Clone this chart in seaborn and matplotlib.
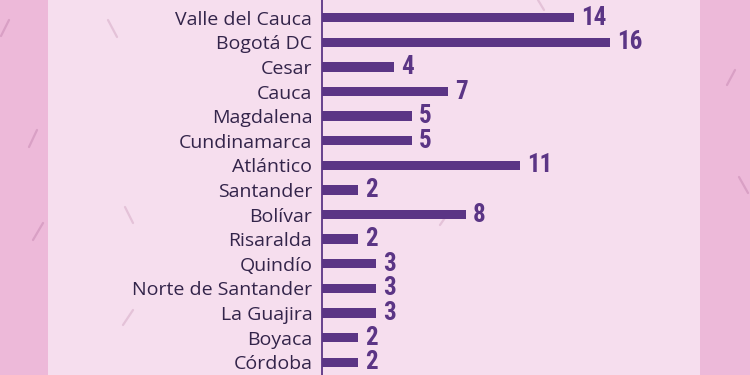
import matplotlib
matplotlib.use("Agg")
import matplotlib.pyplot as plt
import seaborn as sns
import pandas as pd
from matplotlib.lines import Line2D
from matplotlib.patches import Rectangle

# Cases by department
departments = [
    "Antioquia", "Valle del Cauca", "Bogotá DC", "Cesar", "Cauca",
    "Magdalena", "Cundinamarca", "Atlántico", "Santander", "Bolívar",
    "Risaralda", "Quindío", "Norte de Santander", "La Guajira",
    "Boyaca", "Córdoba",
]
cases = [17, 14, 16, 4, 7, 5, 5, 11, 2, 8, 2, 3, 3, 3, 2, 2]

OUTER = "#EDB9D9"
PANEL = "#F6DEEE"
BAR = "#5B3585"
LABEL = "#33244A"

df = pd.DataFrame({"departamento": departments, "casos": cases})

sns.set_theme(style="white")
plt.rcParams["font.family"] = ["Open Sans", "DejaVu Sans"]

W, H = 750, 375
fig = plt.figure(figsize=(W / 100, H / 100), dpi=100)
fig.patch.set_facecolor(OUTER)

# light card behind the chart
fig.add_artist(Rectangle((48 / W, 0), (700 - 48) / W, 1, transform=fig.transFigure,
                         facecolor=PANEL, edgecolor="none", zorder=0))

# scattered confetti strokes in the background
strokes = [
    ((1, 36), (9, 20)), ((29, 147), (37, 130)), ((33, 240), (43, 223)),
    ((108, 20), (117, 37)), ((125, 207), (133, 223)), ((123, 325), (133, 310)),
    ((727, 85), (735, 70)), ((739, 177), (748, 193)), ((440, 225), (449, 212)),
    ((538, 0), (544, 10)),
]
for (x0, y0), (x1, y1) in strokes:
    on_card = 48 < x0 < 700
    fig.add_artist(Line2D([x0 / W, x1 / W], [1 - y0 / H, 1 - y1 / H],
                          transform=fig.transFigure, lw=1.6,
                          color="#E4C2D8" if on_card else "#D9A0C5",
                          solid_capstyle="round", zorder=1))

ax = fig.add_axes([322 / W, 0, (700 - 322) / W, 1])
ax.set_facecolor("none")
ax.set_zorder(2)

sns.barplot(data=df, x="casos", y="departamento", orient="h", color=BAR,
            width=0.38, saturation=1, linewidth=0, ax=ax)

ax.set_xlim(0, 378 / 18.0)
ax.set_ylim(15.52, 0.28)

for side in ("top", "right", "bottom"):
    ax.spines[side].set_visible(False)
ax.spines["left"].set_color(BAR)
ax.spines["left"].set_linewidth(1.3)

ax.set_xlabel("")
ax.set_ylabel("")
ax.set_xticks([])
ax.tick_params(axis="y", length=0, pad=7, labelsize=14, labelcolor=LABEL)
for lab in ax.get_yticklabels():
    lab.set_fontweight(500)

ax.bar_label(ax.containers[0], labels=[str(v) for v in cases], padding=5,
             fontsize=18, fontweight="bold", color=BAR,
             fontfamily=["Liberation Sans Narrow", "Roboto Condensed", "DejaVu Sans"],
             fontstretch="condensed")

fig.savefig("out.png", dpi=100, facecolor=OUTER)
